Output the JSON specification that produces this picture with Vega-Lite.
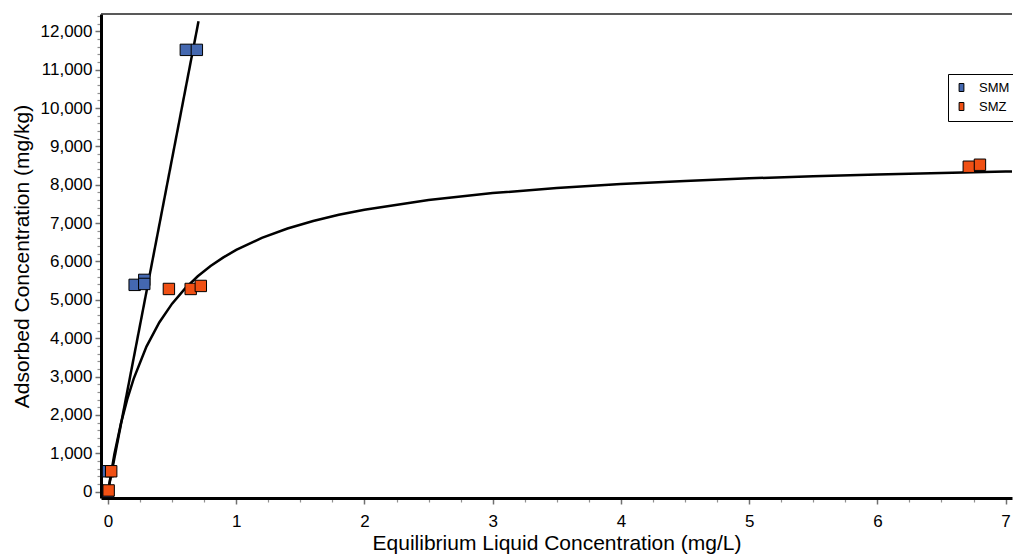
{
  "$schema": "https://vega.github.io/schema/vega-lite/v6.json",
  "width": 1013,
  "height": 554,
  "autosize": {"type": "fit", "contains": "padding"},
  "padding": {"left": 11, "top": 13, "right": 0, "bottom": 1},
  "background": "white",
  "config": {
    "view": {"stroke": null},
    "axis": {
      "grid": false,
      "domainColor": "black",
      "domainWidth": 3,
      "tickColor": "#707070",
      "tickWidth": 1.5,
      "labelFont": "Liberation Sans",
      "labelFontSize": 17,
      "labelColor": "black",
      "titleFont": "Liberation Sans",
      "titleFontSize": 21,
      "titleFontWeight": "normal",
      "titleColor": "black"
    }
  },
  "datasets": {
    "points": [
      {"series": "SMM", "C": 0.0, "q": 0},
      {"series": "SMM", "C": 0.0, "q": 530},
      {"series": "SMM", "C": 0.208, "q": 5390},
      {"series": "SMM", "C": 0.283, "q": 5520},
      {"series": "SMM", "C": 0.283, "q": 5414},
      {"series": "SMM", "C": 0.607, "q": 11517},
      {"series": "SMM", "C": 0.693, "q": 11517},
      {"series": "SMZ", "C": 0.005, "q": 30},
      {"series": "SMZ", "C": 0.025, "q": 530},
      {"series": "SMZ", "C": 0.475, "q": 5283},
      {"series": "SMZ", "C": 0.645, "q": 5283},
      {"series": "SMZ", "C": 0.724, "q": 5362},
      {"series": "SMZ", "C": 6.713, "q": 8470},
      {"series": "SMZ", "C": 6.8, "q": 8522}
    ],
    "smmline": [
      {"C": 0.0, "q": 0},
      {"C": 0.706, "q": 12264}
    ],
    "smzcurve": [
      {"C": 0.0, "q": 0},
      {"C": 0.05, "q": 980},
      {"C": 0.1, "q": 1764},
      {"C": 0.15, "q": 2405},
      {"C": 0.2, "q": 2940},
      {"C": 0.3, "q": 3780},
      {"C": 0.4, "q": 4410},
      {"C": 0.5, "q": 4900},
      {"C": 0.6, "q": 5292},
      {"C": 0.7, "q": 5613},
      {"C": 0.8, "q": 5880},
      {"C": 0.9, "q": 6106},
      {"C": 1.0, "q": 6300},
      {"C": 1.2, "q": 6615},
      {"C": 1.4, "q": 6860},
      {"C": 1.6, "q": 7056},
      {"C": 1.8, "q": 7216},
      {"C": 2.0, "q": 7350},
      {"C": 2.5, "q": 7603},
      {"C": 3.0, "q": 7782},
      {"C": 3.5, "q": 7915},
      {"C": 4.0, "q": 8018},
      {"C": 4.5, "q": 8100},
      {"C": 5.0, "q": 8167},
      {"C": 5.5, "q": 8222},
      {"C": 6.0, "q": 8269},
      {"C": 6.5, "q": 8309},
      {"C": 7.0, "q": 8343},
      {"C": 7.05, "q": 8346}
    ]
  },
  "layer": [
    {
      "data": {"name": "points"},
      "mark": {"type": "point", "opacity": 0},
      "encoding": {
        "x": {
          "field": "C", "type": "quantitative",
          "scale": {"domain": [-0.0545, 7.05], "nice": false, "zero": false},
          "axis": {
            "orient": "bottom", "title": null, "labels": false, "domain": false, "tickSize": 4, "tickColor": "#909090", "tickWidth": 1.2,
            "values": [0.25, 0.5, 0.75, 1.25, 1.5, 1.75, 2.25, 2.5, 2.75, 3.25, 3.5, 3.75, 4.25, 4.5, 4.75, 5.25, 5.5, 5.75, 6.25, 6.5, 6.75]
          }
        },
        "y": {
          "field": "q", "type": "quantitative",
          "scale": {"domain": [-167, 12452], "nice": false, "zero": false},
          "axis": {
            "orient": "left", "title": null, "labels": false, "domain": false, "tickSize": 4, "tickColor": "#909090", "tickWidth": 1.2,
            "values": [200, 400, 600, 800, 1200, 1400, 1600, 1800, 2200, 2400, 2600, 2800, 3200, 3400, 3600, 3800, 4200, 4400, 4600, 4800, 5200, 5400, 5600, 5800, 6200, 6400, 6600, 6800, 7200, 7400, 7600, 7800, 8200, 8400, 8600, 8800, 9200, 9400, 9600, 9800, 10200, 10400, 10600, 10800, 11200, 11400, 11600, 11800, 12200, 12400]
          }
        }
      }
    },
    {
      "data": {"values": [{"top": 12452}]},
      "mark": {"type": "rule", "color": "#222222", "strokeWidth": 1.5},
      "encoding": {
        "y": {"field": "top", "type": "quantitative", "axis": null}
      }
    },
    {
      "data": {"name": "smzcurve"},
      "mark": {"type": "line", "color": "black", "strokeWidth": 2.5, "clip": true},
      "encoding": {
        "x": {
          "field": "C", "type": "quantitative",
          "axis": {
            "orient": "bottom",
            "values": [0, 1, 2, 3, 4, 5, 6, 7],
            "format": "d",
            "tickSize": 6,
            "labelPadding": 9,
            "labelFlush": false,
            "labelOverlap": false,
            "title": "Equilibrium Liquid Concentration (mg/L)",
            "titlePadding": 3
          }
        },
        "y": {
          "field": "q", "type": "quantitative",
          "axis": {
            "orient": "left",
            "values": [0, 1000, 2000, 3000, 4000, 5000, 6000, 7000, 8000, 9000, 10000, 11000, 12000],
            "format": ",.0f",
            "tickSize": 6,
            "labelPadding": 3,
            "labelOverlap": false,
            "title": "Adsorbed Concentration (mg/kg)",
            "titlePadding": 8
          }
        }
      }
    },
    {
      "data": {"name": "smmline"},
      "mark": {"type": "line", "color": "black", "strokeWidth": 2.5, "clip": true},
      "encoding": {
        "x": {"field": "C", "type": "quantitative", "axis": null},
        "y": {"field": "q", "type": "quantitative", "axis": null}
      }
    },
    {
      "data": {"name": "points"},
      "mark": {"type": "point", "shape": "square", "filled": true, "size": 130, "stroke": "black", "strokeWidth": 1, "opacity": 1},
      "encoding": {
        "x": {"field": "C", "type": "quantitative", "axis": null},
        "y": {"field": "q", "type": "quantitative", "axis": null},
        "order": {"field": "series", "sort": "ascending"},
        "color": {
          "field": "series", "type": "nominal",
          "scale": {"domain": ["SMM", "SMZ"], "range": ["#4468B0", "#F05014"]},
          "legend": {
            "title": null,
            "orient": "none",
            "legendX": 847,
            "legendY": 60,
            "direction": "vertical",
            "symbolType": "M-0.6,-1H0.6V1H-0.6Z",
            "symbolSize": 64,
            "symbolStrokeColor": "black",
            "symbolStrokeWidth": 1,
            "symbolOpacity": 1,
            "labelFont": "Liberation Sans",
            "labelFontSize": 13,
            "labelColor": "black",
            "labelOffset": 11,
            "rowPadding": 5,
            "padding": 7,
            "strokeColor": "black",
            "fillColor": "white"
          }
        }
      }
    }
  ],
  "resolve": {"axis": {"x": "independent", "y": "independent"}}
}
